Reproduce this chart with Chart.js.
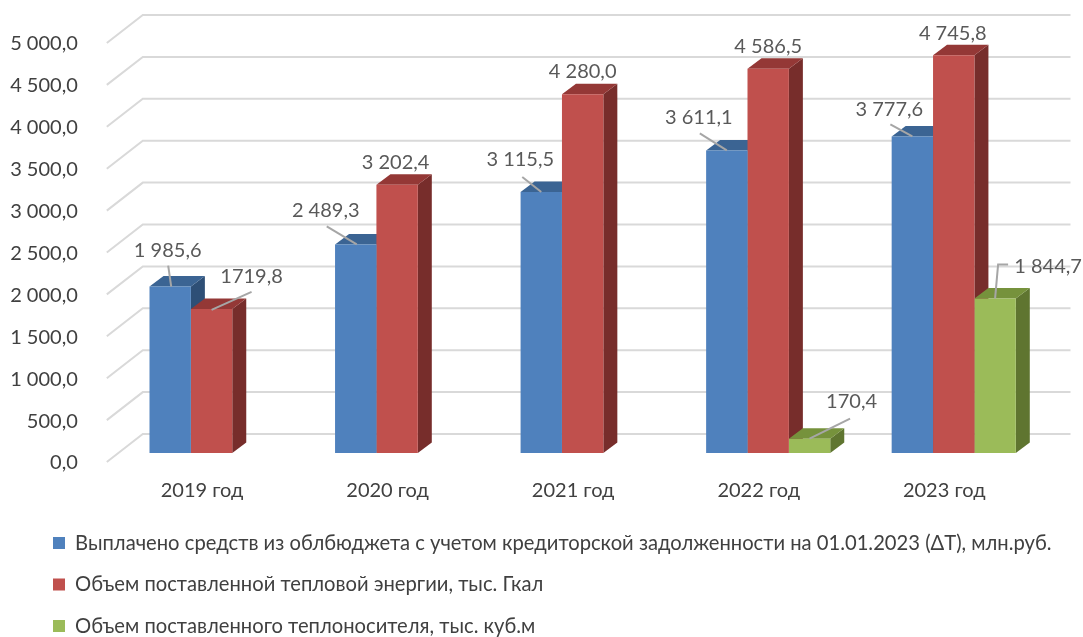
<!DOCTYPE html>
<html><head><meta charset="utf-8">
<style>html,body{margin:0;padding:0;background:#fff}canvas{display:block}</style>
<script src="https://cdn.jsdelivr.net/npm/chart.js@4"></script>
</head><body><canvas id="c" width="1083" height="637"></canvas>
<script>
const categories = ['2019 год','2020 год','2021 год','2022 год','2023 год'];
const budgetPaid = [1985.6, 2489.3, 3115.5, 3611.1, 3777.6];
const heatSupplied = [1719.8, 3202.4, 4280.0, 4586.5, 4745.8];
const coolantSupplied = [null, null, null, 170.4, 1844.7];
const seriesNames = [
  'Выплачено средств из облбюджета с учетом кредиторской задолженности на 01.01.2023 (ΔT), млн.руб.',
  'Объем поставленной тепловой энергии, тыс. Гкал',
  'Объем поставленного теплоносителя, тыс. куб.м'
];
const pointLabels = [
  ['1 985,6','2 489,3','3 115,5','3 611,1','3 777,6'],
  ['1719,8','3 202,4','4 280,0','4 586,5','4 745,8'],
  [null,null,null,'170,4','1 844,7']
];
// label centre relative to bar-top centre, then leader-line bends (same reference)
const labelPlace = [
  [{t:[-2.5,-36.5],l:[[1,0],[-2,-21]]},{t:[-30,-34],l:[[1,0],[-29,-18]]},{t:[-21,-32],l:[[0,0],[-19,-15]]},{t:[-28,-33],l:[[0,0],[-27,-17]]},{t:[-23,-27],l:[[0,0],[-22,-12]]}],
  [{t:[40,-32],l:[[0,1],[40,-17]]},{t:[-1.5,-22],l:null},{t:[0,-23],l:null},{t:[0,-22],l:null},{t:[-1,-22],l:null}],
  [null,null,null,{t:[42,-37.5],l:[[0,0],[40.5,-20]]},{t:[53,-31.5],l:[[0,0],[3,-34],[13,-34]]}]
];
const frontShades = ['#4F81BD','#C0504D','#9BBB59'];
const topShades = ['#3B6493','#943836','#76923C'];
const sideShades = ['#2E4F76','#772D2B','#5F7530'];
const FONT = 'Lato, Carlito, "Open Sans", sans-serif';
const D = {dx:14, dy:-10.5, wallX:24, wallY:-19, frontX:-12, frontY:9};

const fmt = v => {const s=v.toFixed(1).replace('.',',');const [a,b]=s.split(',');return a.replace(/\B(?=(\d{3})+$)/g,' ')+','+b;};

const scene = {
  id:'scene',
  afterLayout(chart){
    const lg = chart.legend;
    lg.left = 31.7; lg.top = 511.6; lg.right = 1083; lg.bottom = 720;
    lg.width = lg.right - lg.left; lg.height = lg.bottom - lg.top;
  },
  beforeDatasetsDraw(chart){
    const {ctx, chartArea:a, scales:{y}} = chart;
    ctx.save(); ctx.strokeStyle='#D9D9D9'; ctx.lineWidth=2;
    y.ticks.forEach(t=>{
      const p=y.getPixelForValue(t.value);
      ctx.beginPath();
      ctx.moveTo(a.left+D.frontX,p+D.frontY);
      ctx.lineTo(a.left+D.wallX,p+D.wallY);
      ctx.lineTo(a.right+D.wallX,p+D.wallY);
      ctx.stroke();
    });
    chart.data.datasets.forEach((ds,i)=>{
      chart.getDatasetMeta(i).data.forEach((b,k)=>{
        if(ds.data[k]==null) return;
        const q=b.getProps(['x','y','base','width']);
        const l=q.x-q.width/2,r=q.x+q.width/2,tp=q.y,bt=q.base;
        ctx.fillStyle=sideShades[i];
        ctx.beginPath();ctx.moveTo(r,tp);ctx.lineTo(r+D.dx,tp+D.dy);ctx.lineTo(r+D.dx,bt+D.dy);ctx.lineTo(r,bt);ctx.closePath();ctx.fill();
        ctx.fillStyle=topShades[i];
        ctx.beginPath();ctx.moveTo(l,tp);ctx.lineTo(l+D.dx,tp+D.dy);ctx.lineTo(r+D.dx,tp+D.dy);ctx.lineTo(r,tp);ctx.closePath();ctx.fill();
      });
    });
    ctx.restore();
  },
  afterDatasetsDraw(chart){
    const {ctx}=chart;
    ctx.save();
    chart.data.datasets.forEach((ds,i)=>{
      chart.getDatasetMeta(i).data.forEach((b,k)=>{
        const pl=labelPlace[i][k]; if(!pl||ds.data[k]==null) return;
        const p=b.getProps(['x','y']);
        if(pl.l){
          ctx.strokeStyle='#A6A6A6';ctx.lineWidth=2;ctx.beginPath();
          pl.l.forEach((o,n)=>{const X=p.x+o[0],Y=p.y+o[1];n?ctx.lineTo(X,Y):ctx.moveTo(X,Y);});
          ctx.stroke();
        }
        ctx.fillStyle='#595959';ctx.font='20px '+FONT;ctx.textAlign='center';ctx.textBaseline='middle';
        ctx.fillText(pointLabels[i][k],p.x+pl.t[0],p.y+pl.t[1]);
      });
    });
    ctx.restore();
  }
};

new Chart(document.getElementById('c'),{
  type:'bar',
  data:{labels:categories,datasets:[
    {label:seriesNames[0],data:budgetPaid,backgroundColor:frontShades[0]},
    {label:seriesNames[1],data:heatSupplied,backgroundColor:frontShades[1]},
    {label:seriesNames[2],data:coolantSupplied,backgroundColor:frontShades[2]}
  ]},
  options:{
    responsive:false,animation:false,
    layout:{padding:{top:34,right:36.5,left:0,bottom:0}},
    datasets:{bar:{categoryPercentage:0.669,barPercentage:1,borderWidth:0}},
    scales:{
      x:{grid:{display:false},border:{display:false},
        afterFit(s){s.height=184;},
        ticks:{color:'#404040',font:{family:FONT,size:20},padding:18,labelOffset:-9.5,maxRotation:0}},
      y:{min:0,max:5000,grid:{display:false,drawTicks:false},border:{display:false},
        afterFit(s){s.width=118.8;s.paddingTop=0;s.paddingBottom=0;},
        ticks:{stepSize:500,color:'#404040',font:{family:FONT,size:20},padding:41,labelOffset:10,callback:v=>fmt(v)}}
    },
    plugins:{
      tooltip:{enabled:false},
      legend:{position:'chartArea',align:'start',
        labels:{boxWidth:12,boxHeight:12,padding:21.3,color:'#404040',font:{family:FONT,size:20.2}}}
    }
  },
  plugins:[scene]
});
</script></body></html>
